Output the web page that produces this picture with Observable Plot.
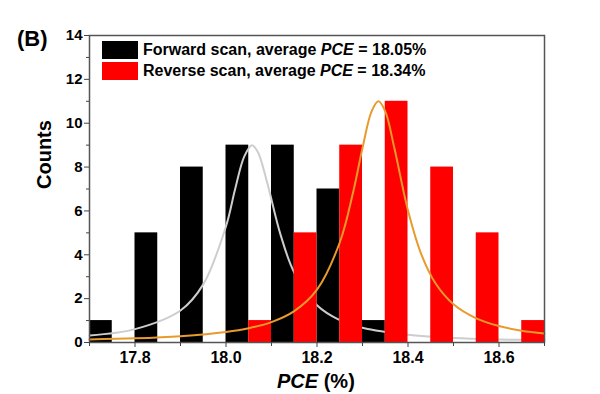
<!DOCTYPE html>
<html><head><meta charset="utf-8">
<script src="https://cdn.jsdelivr.net/npm/d3@7"></script>
<script src="https://cdn.jsdelivr.net/npm/@observablehq/plot@0.6"></script>
<style>
body{margin:0;background:#fff;font-family:"Liberation Sans",Arial,sans-serif;}
#wrap{position:relative;width:600px;height:394px;overflow:hidden;}
.ov{position:absolute;font-weight:bold;color:#000;white-space:nowrap;}
.sw{position:absolute;width:36px;height:18px;}
</style></head>
<body><div id="wrap"></div>
<script>
// Histogram bins (lower edges), bin width 0.05
const binWidth = 0.05;
const forwardBins = [17.70, 17.80, 17.90, 18.00, 18.10, 18.20, 18.30];
const forwardCounts = [1, 5, 8, 9, 9, 7, 1];
const reverseBins = [18.05, 18.15, 18.25, 18.35, 18.45, 18.55, 18.65];
const reverseCounts = [1, 5, 9, 11, 8, 5, 1];

// Fitted curves
const forwardFitX = [17.70, 17.80, 17.90, 17.95, 18.00, 18.02, 18.04, 18.057, 18.07, 18.09, 18.12, 18.15, 18.20, 18.25, 18.30, 18.40, 18.50, 18.60, 18.70];
const forwardFitY = [0.32, 0.61, 1.46, 2.65, 5.3, 6.99, 8.48, 9.0, 8.69, 7.33, 4.91, 3.19, 1.70, 1.02, 0.67, 0.35, 0.21, 0.14, 0.10];
const reverseFitX = [17.70, 17.80, 17.90, 18.00, 18.05, 18.10, 18.15, 18.20, 18.25, 18.28, 18.30, 18.32, 18.335, 18.35, 18.37, 18.40, 18.43, 18.46, 18.50, 18.55, 18.60, 18.65, 18.70];
const reverseFitY = [0.14, 0.19, 0.29, 0.48, 0.65, 0.93, 1.43, 2.41, 4.56, 6.91, 8.87, 10.54, 11.0, 10.54, 8.87, 6.02, 3.98, 2.71, 1.74, 1.10, 0.75, 0.54, 0.41];

const xTicks = [17.8, 18.0, 18.2, 18.4, 18.6];
const xMinor = [17.7, 17.9, 18.1, 18.3, 18.5, 18.7];
const yTicks = [0, 2, 4, 6, 8, 10, 12, 14];
const yMinor = [1, 3, 5, 7, 9, 11, 13];

const forwardLabel = "Forward scan, average <i>PCE</i> = 18.05%";
const reverseLabel = "Reverse scan, average <i>PCE</i> = 18.34%";

const fwd = forwardBins.map((b, i) => ({x1: b, x2: b + binWidth, y: forwardCounts[i]}));
const rev = reverseBins.map((b, i) => ({x1: b, x2: b + binWidth, y: reverseCounts[i]}));
const fwdFit = forwardFitX.map((x, i) => ({x, y: forwardFitY[i]}));
const revFit = reverseFitX.map((x, i) => ({x, y: reverseFitY[i]}));

const chart = Plot.plot({
  width: 600, height: 394,
  marginLeft: 89, marginRight: 56, marginTop: 35, marginBottom: 52,
  style: {fontFamily: "'Liberation Sans', Arial, sans-serif", fontSize: "15px", fontWeight: "bold", background: "transparent", color: "#000"},
  x: {domain: [17.7, 18.7]},
  y: {domain: [0, 14]},
  marks: [
    Plot.rectY(fwd, {x1: "x1", x2: "x2", y: "y", fill: "#000", inset: 0}),
    Plot.line(fwdFit, {x: "x", y: "y", stroke: "#cdcdcd", strokeWidth: 2, curve: "catmull-rom"}),
    Plot.rectY(rev, {x1: "x1", x2: "x2", y: "y", fill: "#ff0000", inset: 0}),
    Plot.line(revFit, {x: "x", y: "y", stroke: "#e99a2c", strokeWidth: 2, curve: "catmull-rom"}),
    Plot.frame({stroke: "#555", strokeWidth: 1.5}),
    Plot.axisX({ticks: xTicks, tickFormat: ".1f", tickSize: 5, tickPadding: 4, label: null, stroke: "#444", fontSize: 16}),
    Plot.axisX({ticks: xMinor, tickFormat: () => "", tickSize: 4, label: null, stroke: "#444"}),
    Plot.axisY({ticks: yTicks, tickFormat: "d", tickSize: 5, tickPadding: 2, label: null, stroke: "#444", fontSize: 15}),
    Plot.axisY({ticks: yMinor, tickFormat: () => "", tickSize: 3, label: null, stroke: "#444"}),
    Plot.text(["Counts"], {frameAnchor: "left", rotate: -90, dx: -45, fontSize: 20, fontWeight: "bold", fill: "#000"})
  ]
});

const wrap = document.getElementById("wrap");
wrap.appendChild(chart);
function ov(html, css){const d=document.createElement("div");d.className="ov";d.innerHTML=html;Object.assign(d.style,css);wrap.appendChild(d);}
function sw(color, css){const d=document.createElement("div");d.className="sw";d.style.background=color;Object.assign(d.style,css);wrap.appendChild(d);}
ov("(B)", {left: "17px", top: "27px", fontSize: "22px", lineHeight: "24px"});
sw("#000", {left: "102px", top: "41px"});
sw("#ff0000", {left: "102px", top: "62px"});
ov(forwardLabel, {left: "143px", top: "41px", fontSize: "16px", lineHeight: "18px"});
ov(reverseLabel, {left: "143px", top: "62px", fontSize: "16px", lineHeight: "18px"});
ov("<i>PCE</i> (%)", {left: "277px", top: "371px", fontSize: "20px", lineHeight: "20px"});
</script></body></html>
